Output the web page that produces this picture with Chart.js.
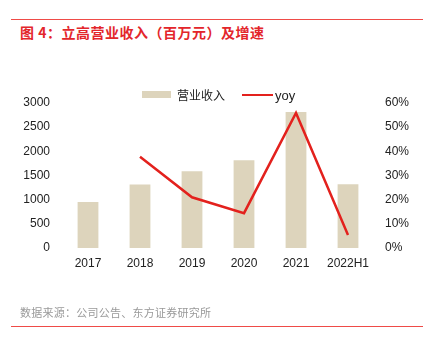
<!DOCTYPE html>
<html>
<head>
<meta charset="utf-8">
<script src="https://cdn.jsdelivr.net/npm/chart.js@4"></script>
<style>
  html, body { margin: 0; padding: 0; background: #fff; }
  body { width: 437px; height: 350px; position: relative; overflow: hidden;
         font-family: "Noto Sans CJK SC", "Liberation Sans", sans-serif; }
  #wrap { position: absolute; left: 0; top: 0; width: 437px; height: 350px; }
  .rule { position: absolute; left: 11px; width: 412px; height: 1px; background: #ef4b47; }
  #titulo { position: absolute; left: 20px; top: 22px; font-size: 14px; font-weight: bold;
            color: #e3262b; white-space: nowrap; line-height: 20px; letter-spacing: 0.5px; }
  #fuente { position: absolute; left: 20px; top: 304px; font-size: 11px; color: #999999;
            white-space: nowrap; line-height: 16px; letter-spacing: 0.25px; }
  #leyenda { position: absolute; top: 87px; left: 0; height: 16px; font-size: 12px; color: #222;
             line-height: 16px; }
  .sw-bar { position: absolute; left: 142px; top: 4px; width: 29px; height: 7px; background: #ddd4bc; }
  .lb-bar { position: absolute; left: 177px; top: 0; white-space: nowrap; }
  .sw-line { position: absolute; left: 242px; top: 7px; width: 31px; height: 2px; background: #e3211d; }
  .lb-line { position: absolute; left: 275px; top: 1px; white-space: nowrap;
             font-family: "Liberation Sans", sans-serif; font-size: 13px; }
</style>
</head>
<body>
<div class="rule" style="top:19px"></div>
<div id="titulo">图 4：立高营业收入（百万元）及增速</div>
<div id="wrap"><canvas id="grafica" width="437" height="350"></canvas></div>
<div id="leyenda">
  <div class="sw-bar"></div><div class="lb-bar">营业收入</div>
  <div class="sw-line"></div><div class="lb-line">yoy</div>
</div>
<div id="fuente">数据来源：公司公告、东方证券研究所</div>
<div class="rule" style="top:326px"></div>

<script>
// --- Datos ---
const categorias = ['2017', '2018', '2019', '2020', '2021', '2022H1'];
const ingresos = [952, 1312, 1588, 1815, 2814, 1318];      // 百万元
const crecimiento = [null, 37.8, 21.0, 14.4, 55.9, 5.4];    // yoy en %
const ticksIzq = [0, 500, 1000, 1500, 2000, 2500, 3000];
const ticksDer = [0, 10, 20, 30, 40, 50, 60];

const colorBarra = '#ddd4bc';
const colorLinea = '#e3211d';
const colorTexto = '#222222';
const fuenteEjes = { family: "'Liberation Sans', Arial, sans-serif", size: 12 };

const ctx = document.getElementById('grafica').getContext('2d');
new Chart(ctx, {
    data: {
        labels: categorias,
        datasets: [
            {
                type: 'line',
                label: 'yoy',
                data: crecimiento,
                yAxisID: 'y2',
                borderColor: colorLinea,
                borderWidth: 2.5,
                pointRadius: 0,
                tension: 0,
                order: 0
            },
            {
                type: 'bar',
                label: '营业收入',
                data: ingresos,
                yAxisID: 'y',
                backgroundColor: colorBarra,
                barPercentage: 0.4,
                categoryPercentage: 1.0,
                order: 1
            }
        ]
    },
    options: {
        responsive: false,
        animation: false,
        layout: { padding: { top: 103, bottom: 72, left: 0, right: 0 } },
        plugins: { legend: { display: false }, tooltip: { enabled: false } },
        scales: {
            x: {
                grid: { display: false, drawTicks: false },
                border: { display: false },
                ticks: { color: colorTexto, font: fuenteEjes, padding: 8, maxRotation: 0 },
                afterFit: s => { s.height = 30; }
            },
            y: {
                position: 'left',
                min: 0, max: 3000,
                grid: { display: false, drawTicks: false },
                border: { display: false },
                afterBuildTicks: s => { s.ticks = ticksIzq.map(v => ({ value: v })); },
                ticks: { color: colorTexto, font: fuenteEjes, padding: 12, callback: v => String(v) },
                afterFit: s => { s.width = 62; }
            },
            y2: {
                position: 'right',
                min: 0, max: 60,
                grid: { display: false, drawTicks: false },
                border: { display: false },
                afterBuildTicks: s => { s.ticks = ticksDer.map(v => ({ value: v })); },
                ticks: { color: colorTexto, font: fuenteEjes, padding: 11, callback: v => v + '%' },
                afterFit: s => { s.width = 63; }
            }
        }
    }
});
</script>
</body>
</html>
